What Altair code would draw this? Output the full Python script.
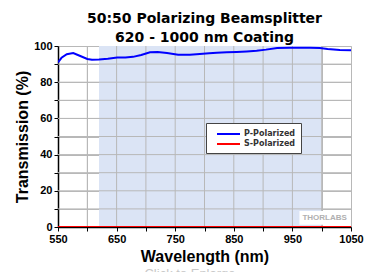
import altair as alt
import pandas as pd

# P-polarized transmission
wavelength = [550, 556, 565, 576, 588, 600, 608, 620, 635, 651, 665, 678, 692, 707,
              720, 736, 755, 775, 792, 808, 821, 838, 855, 872, 889, 905, 924, 945,
              965, 980, 997, 1010, 1031, 1050]
p_pol = [91.0, 93.5, 95.5, 96.1, 94.5, 92.8, 92.4, 92.5, 93.0, 93.7, 93.6, 94.0, 95.0, 96.5,
         96.7, 96.1, 95.2, 95.2, 95.6, 96.0, 96.3, 96.5, 96.7, 97.0, 97.4, 98.0, 98.9, 99.0,
         99.0, 99.0, 98.9, 98.3, 97.8, 97.6]
s_wavelength = [550, 1050]
s_pol = [0.0, 0.0]
coating_band = [620, 1000]
series_names = ["P-Polarized", "S-Polarized"]
series_colors = ["#0000ff", "#ff0000"]
x_ticks = list(range(550, 1051, 50))
y_ticks = list(range(0, 101, 10))

df = pd.concat([
    pd.DataFrame({"wl": wavelength, "T": p_pol, "series": series_names[0]}),
    pd.DataFrame({"wl": s_wavelength, "T": s_pol, "series": series_names[1]}),
])
band = pd.DataFrame({"x1": [coating_band[0]], "x2": [coating_band[1]]})
xgrid = pd.DataFrame({"gx": x_ticks[1:-1], "y0": 0, "y1": 100})
ygrid = pd.DataFrame({"gy": y_ticks[1:-1], "x0": 550, "x1": 1050})

FONT = "Liberation Sans"
WIDE = "DejaVu Sans"
GRID = "#b8b8b8"
xscale = alt.Scale(domain=[550, 1050], nice=False, zero=False)
yscale = alt.Scale(domain=[0, 100], nice=False)

xaxis = alt.Axis(values=x_ticks,
                 labelExpr="datum.value % 100 == 50 ? datum.label : ''",
                 title="Wavelength (nm)", grid=True, gridColor=GRID, gridOpacity=1,
                 labelOverlap=False, labelFlush=False, format="d",
                 domainColor="black", domainWidth=1.5, tickColor="black", tickSize=4,
                 labelFont=FONT, labelFontWeight="bold", labelFontSize=11, labelColor="black",
                 labelPadding=2, titleFont=FONT, titleFontWeight="bold", titleFontSize=16,
                 titleColor="black", titlePadding=4)
yaxis = alt.Axis(values=y_ticks,
                 labelExpr="datum.value % 20 == 0 ? datum.label : ''",
                 title="Transmission (%)", grid=True, gridColor=GRID, gridOpacity=1,
                 labelOverlap=False, labelFlush=False,
                 domainColor="black", domainWidth=1.5, tickColor="black", tickSize=4,
                 labelFont=FONT, labelFontWeight="bold", labelFontSize=11, labelColor="black",
                 labelPadding=2, titleFont=FONT, titleFontWeight="bold", titleFontSize=16,
                 titleColor="black", titlePadding=3)

shade = alt.Chart(band).mark_rect(color="#dbe4f5").encode(
    x=alt.X("x1:Q", scale=xscale, axis=xaxis),
    x2="x2:Q",
    y=alt.value(0),
    y2=alt.value(181),
)

vgrid = alt.Chart(xgrid).mark_rule(color=GRID, strokeWidth=1, opacity=1).encode(
    x=alt.X("gx:Q", scale=xscale, axis=xaxis),
    y=alt.Y("y0:Q", scale=yscale, axis=yaxis), y2="y1:Q")
hgrid = alt.Chart(ygrid).mark_rule(color=GRID, strokeWidth=1, opacity=1).encode(
    y=alt.Y("gy:Q", scale=yscale, axis=yaxis),
    x=alt.X("x0:Q", scale=xscale, axis=xaxis), x2="x1:Q")

lines = alt.Chart(df).mark_line(strokeWidth=2, clip=True).encode(
    x=alt.X("wl:Q", scale=xscale, axis=xaxis),
    y=alt.Y("T:Q", scale=yscale, axis=yaxis),
    color=alt.Color("series:N",
                    scale=alt.Scale(domain=series_names, range=series_colors),
                    legend=alt.Legend(title=None, orient="none", legendX=148, legendY=77,
                                      symbolType="M0,0H4.6", symbolStrokeWidth=2,
                                      symbolSize=100, labelFont=WIDE, labelFontWeight="bold",
                                      labelFontSize=8, labelColor="#333333",
                                      strokeColor="#444444", fillColor="white",
                                      padding=5, rowPadding=0, labelOffset=21)),
)

logo_box = alt.Chart(pd.DataFrame({"bx1": [962], "bx2": [1048], "by1": [1.2], "by2": [8.8]})).mark_rect(
    color="white").encode(x=alt.X("bx1:Q", scale=xscale, axis=xaxis), x2="bx2:Q",
                          y=alt.Y("by1:Q", scale=yscale, axis=yaxis), y2="by2:Q")
logo = alt.Chart(pd.DataFrame({"lx": [1005], "ly": [5], "t": ["THORLABS"]})).mark_text(
    font=FONT, fontWeight="bold", fontSize=8, color="#b0b0b0").encode(
    x=alt.X("lx:Q", scale=xscale, axis=xaxis), y=alt.Y("ly:Q", scale=yscale, axis=yaxis),
    text="t:N")

enlarge = alt.Chart(pd.DataFrame({"t": ["Click to Enlarge"]})).mark_text(
    font=FONT, fontSize=13, color="#c8c8c8", baseline="top").encode(
    x=alt.value(132), y=alt.value(222), text="t:N")

chart = alt.layer(shade, vgrid, hgrid, lines, logo_box, logo, enlarge).properties(
    width=293, height=181,
    title=alt.TitleParams(["50:50 Polarizing Beamsplitter", "620 - 1000 nm Coating"],
                          font=WIDE, fontSize=14, fontWeight="bold", color="black",
                          lineHeight=19, anchor="middle", offset=-5),
    autosize=alt.AutoSizeParams(type="none"),
    padding={"left": 50, "top": 38, "right": 20, "bottom": 60},
).configure_view(stroke="black", strokeWidth=1.5).configure(background="white")

chart.save("out.html", embed_options={"renderer": "svg", "actions": False})
